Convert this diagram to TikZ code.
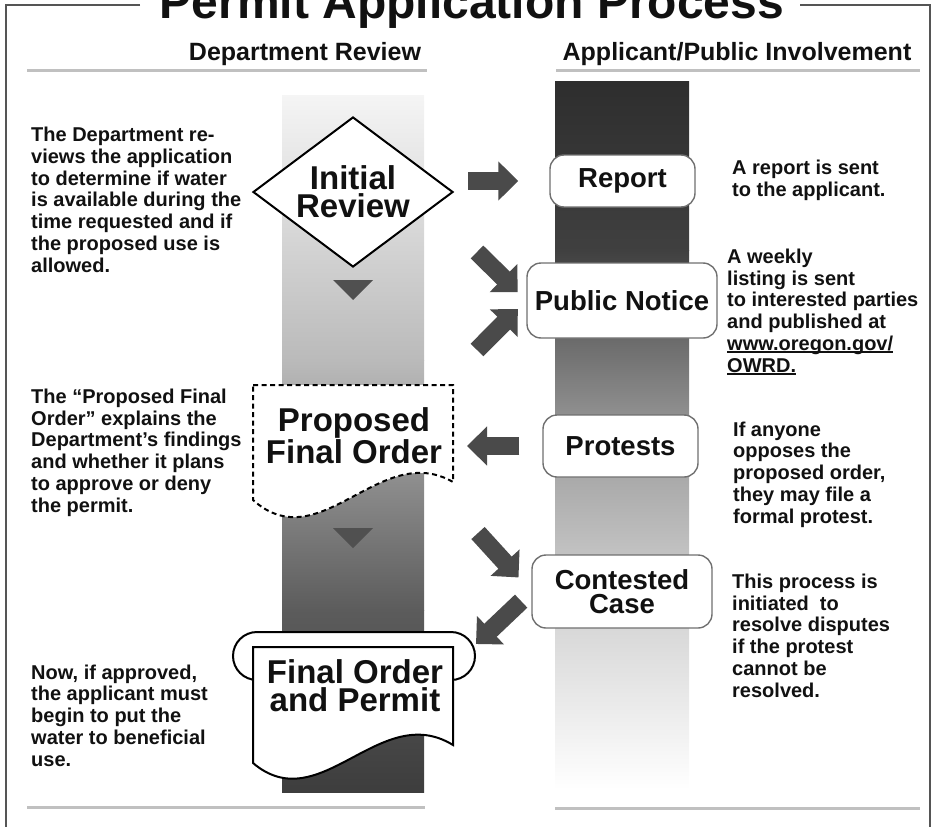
\documentclass[tikz,border=0pt]{standalone}
\usepackage{fontspec}
\setmainfont{Liberation Sans}
\usetikzlibrary{arrows.meta,shapes.geometric}
\definecolor{paink}{HTML}{111111}
\definecolor{paarrow}{HTML}{4A4A4A}
\definecolor{patri}{HTML}{505050}
\definecolor{parule}{HTML}{C0C0C0}
\definecolor{paframe}{HTML}{555555}
\definecolor{paedge}{HTML}{707070}
\newcommand{\pafont}[2]{\fontsize{#1bp}{#2bp}\selectfont\bfseries}
\newcommand{\paul}[1]{\setbox0\hbox{#1}\rlap{\rule[-2.8bp]{\wd0}{1.8bp}}\box0}
\tikzset{
  note/.style={anchor=base west,align=left,inner sep=0pt,font=\pafont{20}{21.7},text=paink},
  stepbox/.style={draw=paedge,line width=1.4bp,fill=white,rounded corners=14bp,inner sep=0pt,font=\pafont{27.5}{23.5},align=center,text=paink},
  doctext/.style={inner sep=0pt,font=\pafont{33}{28},align=center,text=paink},
  docline/.style={draw=black,line width=2bp,fill=white},
  fatarrow/.style={draw=paarrow,line width=18bp,-{Triangle[length=20bp,width=38bp]}},
}
\begin{document}
\begin{tikzpicture}[x=1bp,y=-1bp]
  \useasboundingbox (0,0) rectangle (934,827);
  \draw[paframe,line width=2bp] (140,5) -- (6,5) -- (6,827);
  \draw[paframe,line width=2bp] (800,5) -- (930,5) -- (930,827);
  \node[anchor=base,font=\pafont{48}{50},text=paink] (title) at (472,18) {Permit Application Process};
  \node[anchor=base,font=\pafont{25}{28},text=paink] (hdept) at (305,60) {Department Review};
  \node[anchor=base,font=\pafont{25}{28},text=paink] (happ) at (737,60) {Applicant/Public Involvement};
  \foreach \xa/\xb/\y in {27/427/70,556/920/70,27/425/807,555/920/808}{\draw[parule,line width=3bp] (\xa,\y) -- (\xb,\y);}

  \foreach \ya/\yb/\ca/\cb in {95/360.5/4/27,360/610.5/27/64,610/792/64/76}{\shade[top color=black!\ca,bottom color=black!\cb] (282,\ya) rectangle (424,\yb);}
  \foreach \ya/\yb/\ca/\cb in {81/250.5/82/75,250/450.5/75/37,450/600.5/37/18,600/790/18/0}{\shade[top color=black!\ca,bottom color=black!\cb] (555,\ya) rectangle (689,\yb);}
  \foreach \y in {280,528}{\fill[patri] (333,\y) -- (373,\y) -- (353,\y+20) -- cycle;}

  \node[diamond,draw=black,line width=2bp,fill=white,aspect=1.333,minimum width=200bp,minimum height=150bp,doctext] (init) at (353,192) {Initial\\Review};

  \draw[docline,dash pattern=on 5bp off 3.5bp] (253,385) -- (453,385) -- (453,482) .. controls (380,440) and (320,560) .. (253,500) -- cycle;
  \node[doctext] (pfo) at (354,436) {Proposed\\Final Order};
  \coordinate (pfoedge) at (453,446);

  \draw[docline] (257,680) arc[start angle=90,end angle=270,radius=24] -- (451,632) arc[start angle=270,end angle=450,radius=24];
  \draw[docline] (253,647) -- (453,647) -- (453,745) .. controls (380,700) and (320,820) .. (253,763) -- cycle;
  \node[doctext] (final) at (355,686) {Final Order\\and Permit};
  \coordinate (finin) at (476,644);

  \node[stepbox,minimum width=145bp,minimum height=52bp] (report) at (622.5,181) {Report};
  \node[stepbox,minimum width=190bp,minimum height=75bp] (pnotice) at (622,300.5) {Public Notice};
  \node[stepbox,minimum width=155bp,minimum height=62bp] (protests) at (620.5,446) {Protests};
  \node[stepbox,minimum width=180bp,minimum height=73bp] (contested) at (622,591.5) {Contested\\Case};

  \coordinate (pnin1) at (477,252);
  \coordinate (pnin2) at (477,350);
  \coordinate (ccin) at (478,533);
  \draw[fatarrow,shorten <=14bp,shorten >=31bp] (init.east |- report.west) -- (report.west);
  \draw[fatarrow,shorten >=12bp] (pnin1) -- (pnotice.west);
  \draw[fatarrow,shorten >=12bp] (pnin2) -- (pnotice.west);
  \draw[fatarrow,shorten <=23bp,shorten >=14bp] (protests.west) -- (pfoedge);
  \draw[fatarrow,shorten >=19bp] (ccin) -- (contested.west);
  \draw[fatarrow,shorten <=14bp] (contested.west) -- (finin);

  \node[note] (noteinit) at (31,272) {The Department re-\\views the application\\to determine if water\\is available during the\\time requested and if\\the proposed use is\\allowed.};
  \node[note] (notepfo) at (31,512) {The “Proposed Final\\Order” explains the\\Department’s findings\\and whether it plans\\to approve or deny\\the permit.};
  \node[note] (notefinal) at (31,766) {Now, if approved,\\the applicant must\\begin to put the\\water to beneficial\\use.};
  \node[note] (notereport) at (732,196) {A report is sent\\to the applicant.};
  \node[note] (notepn) at (727,372) {A weekly\\listing is sent\\to interested parties\\and published at\\\paul{www.oregon.gov/}\\\paul{OWRD.}};
  \node[note] (noteprot) at (733,523) {If anyone\\opposes the\\proposed order,\\they may file a\\formal protest.};
  \node[note] (notecc) at (732,697) {This process is\\initiated\ \ to\\resolve disputes\\if the protest\\cannot be\\resolved.};
\end{tikzpicture}
\end{document}
